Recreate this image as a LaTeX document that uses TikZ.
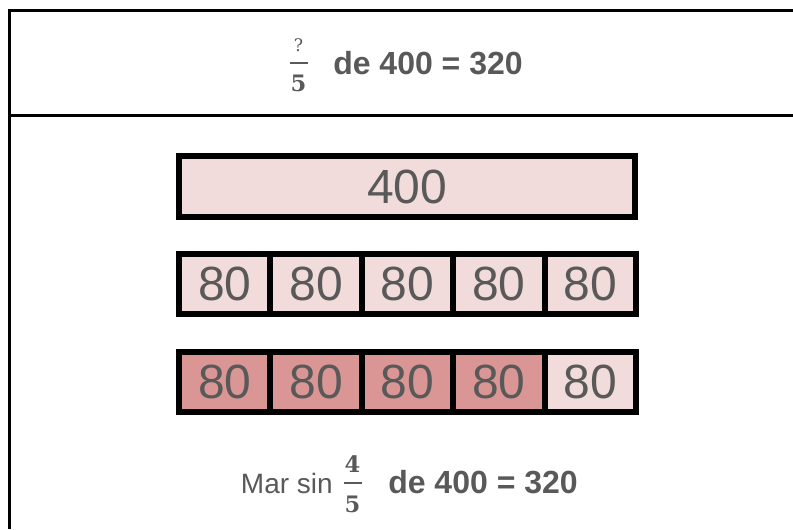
\documentclass[tikz,border=0pt]{standalone}
\usepackage[no-math]{fontspec}
\usepackage{amsmath}
\setmainfont{Liberation Sans}
\newfontfamily\fracfont{DejaVu Serif}
\usetikzlibrary{positioning}

\definecolor{lightrose}{HTML}{F2DCDB}
\definecolor{darkrose}{HTML}{D99694}
\definecolor{textgray}{HTML}{595959}

% numerator and denominator with struts for the gaps round the bar
\newcommand{\fracnum}[1]{\rule[-6pt]{0pt}{0pt}\makebox[13.5pt]{\fracfont #1}}
\newcommand{\fracden}[1]{\rule{0pt}{19.4pt}\makebox[13.5pt]{\fracfont\bfseries #1}}
\newcommand{\smallfrac}[2]{$\genfrac{}{}{1.5pt}{1}{\text{\fracnum{#1}}}{\text{\fracden{#2}}}$}

\tikzset{
  cell/.style={draw=black, line width=4.5pt, fill=lightrose, inner sep=0pt,
    minimum width=68.55pt, minimum height=45pt, text=textgray,
    font=\fontsize{36}{36}\selectfont},
  shaded/.style={cell, fill=darkrose},
  eqtext/.style={text=textgray, inner sep=0pt, font=\fontsize{24}{24}\selectfont\bfseries},
  fractext/.style={text=textgray, inner sep=0pt, anchor=base, font=\fontsize{24}{28}\selectfont},
  rule/.style={line width=2.25pt, black}
}

\begin{document}
\begin{tikzpicture}[x=0.75pt, y=-0.75pt]
		\useasboundingbox (0,0) rectangle (793,529);
		% table frame
		\coordinate (tl) at (9.5,10.5);
		\coordinate (tr) at (793,10.5);
		\coordinate (ml) at (9.5,115.5);
		\coordinate (mr) at (793,115.5);
		\coordinate (bl) at (9.5,529);
		\draw[rule] (tr) -- (tl) -- (bl);
		\draw[rule] (ml) -- (mr);
		
		% heading
		\node[fractext] (qfrac) at (298.5,71) {\smallfrac{\fontsize{13}{13}\selectfont ?}{\fontsize{17}{17}\selectfont 5}};
		\node[eqtext, anchor=base west] (qeq) at (333,74.5) {de 400 = 320};
		
		% whole bar
		\node[cell, minimum width=342pt, minimum height=45.75pt] (whole) at (407.25,186.5) {400};
		
		% fifths
		\foreach \i in {1,...,5}
			\node[cell] (c\i) at ({224.7+91.4*(\i-1)},284) {80};
		
		% four fifths shaded
		\foreach \i in {1,...,4}
			\node[shaded] (d\i) at ({224.7+91.4*(\i-1)},381.5) {80};
		\node[cell] (d5) at (590.3,381.5) {80};
		
		% answer
		\node[fractext] (afrac) at (352.5,491.6) {\smallfrac{\bfseries\fontsize{17}{17}\selectfont 4}{\fontsize{17}{17}\selectfont 5}};
		\node[eqtext, font=\fontsize{21}{24}\selectfont, anchor=base east] (mar) at (333,493.3) {Mar sin};
		\node[eqtext, anchor=base west] (aeq) at (388,493.3) {de 400 = 320};
	\end{tikzpicture}
\end{document}
